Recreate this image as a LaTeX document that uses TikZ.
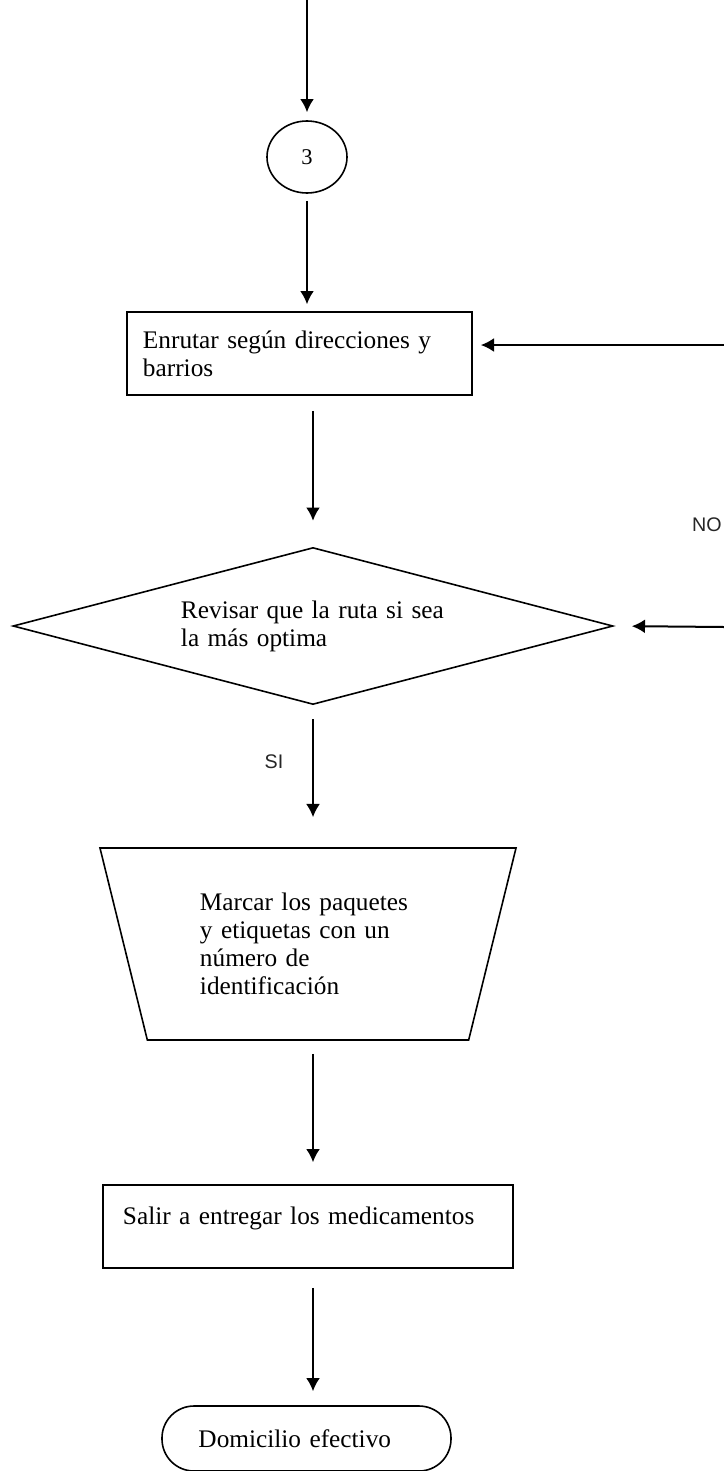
\documentclass[tikz,border=0pt]{standalone}
\usepackage{fontspec}
\setmainfont{Liberation Serif}
\newfontfamily\lblfont{Liberation Sans}
\usetikzlibrary{shapes.geometric, arrows.meta, positioning}

\begin{document}
\begin{tikzpicture}[
    x=0.25mm, y=-0.25mm,
    font=\fontsize{18pt}{20pt}\selectfont,
    box/.style={draw, rectangle, line width=0.4mm, align=left, inner xsep=4mm},
    decision/.style={draw, diamond, line width=0.4mm, aspect=3.8, inner sep=0pt, minimum width=150mm, minimum height=39.25mm, text width=66mm, align=left},
    manual/.style={draw, trapezium, shape border rotate=180, trapezium left angle=67, trapezium right angle=67, trapezium stretches body, line width=0.4mm, minimum width=104mm, minimum height=48mm, text width=54mm, align=left},
    connector/.style={draw, ellipse, line width=0.4mm, minimum width=20mm, minimum height=18mm, font=\fontsize{16pt}{18pt}\selectfont},
    terminal/.style={draw, rectangle, rounded corners=8mm, line width=0.4mm, minimum width=72.25mm, minimum height=16.25mm, text width=54mm, align=left},
    lbl/.style={font=\lblfont\fontsize{14pt}{16pt}\selectfont, text=black!85},
    arrow/.style={-{Latex[length=3.3mm, width=3.5mm]}, line width=0.5mm}
]
\useasboundingbox (0,0) rectangle (724,1471);

% Nodes
\node[connector] (c3) at (307,157) {3};
\node[box, minimum width=86.25mm, minimum height=20.75mm, text width=78.25mm] (route) at (299.5,353.5) {Enrutar según direcciones y\\barrios};
\node[decision] (check) at (313,626) {Revisar que la ruta si sea\\la más optima};
\node[manual] (mark) at (308,944) {Marcar los paquetes\\y etiquetas con un\\número de\\identificación};
\node[box, inner xsep=5mm, minimum width=102.5mm, minimum height=20.75mm, text width=92.5mm, text height=4.5mm, text depth=5.5mm] (leave) at (308,1226.5) {Salir a entregar los medicamentos};
\node[terminal] (done) at (306.5,1438.5) {Domicilio efectivo};
\node[lbl] (no) at (707,525) {NO};

% Loose ends
\coordinate (in) at (307,0);
\coordinate (backA) at (724,345);
\coordinate (backB) at (724,627);

% Arrows
\draw[arrow, shorten >=2mm] (in) -- (c3.north);
\draw[arrow, shorten <=1.75mm, shorten >=1.75mm] (c3.south) -- (c3.south |- route.north);
\draw[arrow, shorten >=2mm] (backA) -- (backA -| route.east);
\draw[arrow, shorten <=3.75mm, shorten >=6.5mm] (route.south -| check.north) -- (check.north);
\draw[arrow, shorten >=4.5mm] (backB) -- (check.east);
\draw[arrow, shorten <=3.5mm, shorten >=7.5mm] (check.south) -- node[lbl, pos=0.4, left=6mm] (si) {SI} (check.south |- mark.north);
\draw[arrow, shorten <=3.25mm, shorten >=5.5mm] (mark.south -| check.south) -- (check.south |- leave.north);
\draw[arrow, shorten <=4.75mm, shorten >=3.5mm] (leave.south -| check.south) -- (check.south |- done.north);
\end{tikzpicture}
\end{document}
